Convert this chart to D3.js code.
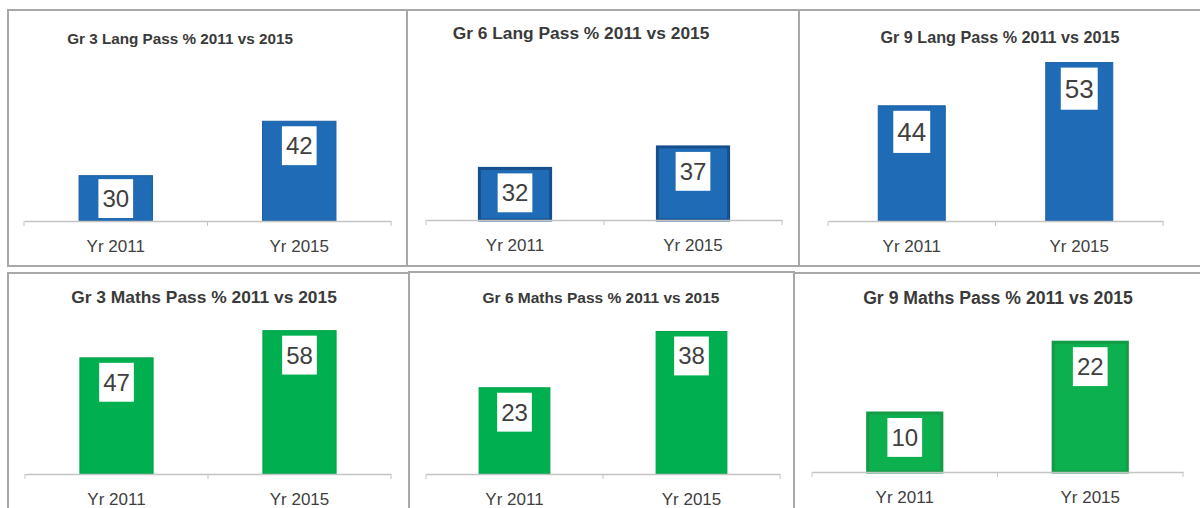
<!DOCTYPE html>
<html lang="en">
<head>
    <meta charset="UTF-8">
    <title>Pass % 2011 vs 2015</title>
    <script src="https://d3js.org/d3.v7.min.js"></script>
    <style>
        body { margin: 0; background: #fff; }
        svg { display: block; font-family: "Liberation Sans", Arial, sans-serif; }
        .title { font-weight: bold; fill: #3a3a3a; text-anchor: middle; }
        .axis text { fill: #404040; font-size: 17px; }
        .value { fill: #404040; text-anchor: middle; }
    </style>
</head>
<body>
<svg width="1200" height="508"></svg>
<script>
    // data
    const titles = [
        "Gr 3 Lang Pass % 2011 vs 2015",
        "Gr 6 Lang Pass % 2011 vs 2015",
        "Gr 9 Lang Pass % 2011 vs 2015",
        "Gr 3 Maths Pass % 2011 vs 2015",
        "Gr 6 Maths Pass % 2011 vs 2015",
        "Gr 9 Maths Pass % 2011 vs 2015"
    ];
    const years = ["Yr 2011", "Yr 2015"];
    const langPass = [[30, 42], [32, 37], [44, 53]];
    const mathsPass = [[47, 58], [23, 38], [10, 22]];

    // where each pasted chart sits in the picture (they were screenshotted separately)
    const layout = [
        { box: [8, 10, 407, 266], ax: [24, 391], base: 221, dom: [20, 50], top: 85, tx: 180, ty: 38, tw: 226, ls: 24, fill: "#1f6bb5", stroke: "#1b5fa3", sw: 1 },
        { box: [407, 10, 799, 266], ax: [426, 782], base: 220, dom: [20, 40], top: 134, tx: 581, ty: 33, tw: 257, ls: 24, fill: "#1f6bb5", stroke: "#174f8c", sw: 3 },
        { box: [799, 10, 1203, 266], ax: [828, 1163], base: 221, dom: [20, 60], top: 29, tx: 1000, ty: 37, tw: 239, ls: 26, fill: "#1f6bb5", stroke: "#1b5fa3", sw: 1 },
        { box: [8, 273, 409, 515], ax: [25, 391], base: 474, dom: [0, 70], top: 301, tx: 204, ty: 297, tw: 266, ls: 24, fill: "#00b050", stroke: "#00a048", sw: 1 },
        { box: [409, 272, 794, 515], ax: [426, 780], base: 474, dom: [0, 40], top: 324, tx: 601, ty: 297, tw: 237, ls: 24, fill: "#00b050", stroke: "#00a048", sw: 1 },
        { box: [794, 273, 1203, 515], ax: [812, 1183], base: 472, dom: [0, 25], top: 324.5, tx: 998, ty: 298, tw: 270, ls: 24, fill: "#0db04e", stroke: "#159a45", sw: 3 }
    ];

    const values = langPass.concat(mathsPass);
    const svg = d3.select("svg");

    // bottom row first so the top row borders sit over them
    const order = [3, 4, 5, 0, 1, 2];

    order.forEach(i => {
        const L = layout[i];
        const g = svg.append("g");

        g.append("rect")
            .attr("x", L.box[0]).attr("y", L.box[1])
            .attr("width", L.box[2] - L.box[0]).attr("height", L.box[3] - L.box[1])
            .attr("fill", "#fff")
            .attr("stroke", "#a8a8a8")
            .attr("stroke-width", 2);

        const x = d3.scaleBand().domain(years).range(L.ax).padding(0);
        const y = d3.scaleLinear().domain(L.dom).range([L.base, L.top]);
        const bw = x.bandwidth() * 0.4;

        const data = years.map((yr, j) => ({ yr: yr, v: values[i][j] }));

        // title, sized to the width it has in the picture
        const t = g.append("text")
            .attr("class", "title")
            .attr("x", L.tx).attr("y", L.ty)
            .attr("dominant-baseline", "central")
            .style("font-size", "10px")
            .text(titles[i]);
        const w10 = t.node().getComputedTextLength();
        t.style("font-size", (10 * L.tw / w10) + "px");

        // bars
        g.selectAll("rect.bar")
            .data(data)
            .enter().append("rect")
            .attr("class", "bar")
            .attr("x", d => x(d.yr) + (x.bandwidth() - bw) / 2)
            .attr("y", d => y(d.v))
            .attr("width", bw)
            .attr("height", d => y(L.dom[0]) - y(d.v))
            .attr("fill", L.fill)
            .attr("stroke", L.stroke)
            .attr("stroke-width", L.sw);

        // axis
        const axis = g.append("g")
            .attr("class", "axis")
            .attr("transform", `translate(0,${L.base})`)
            .call(d3.axisBottom(x).tickSize(0).tickSizeOuter(0).tickPadding(19));
        axis.select(".domain").attr("stroke", "#c4c4c4").attr("stroke-width", 1.3);
        axis.selectAll(".tick text").attr("font-family", null).attr("font-size", null);

        const edges = years.map(d => x(d)).concat([L.ax[1]]);
        g.selectAll("line.edge")
            .data(edges)
            .enter().append("line")
            .attr("x1", d => d).attr("x2", d => d)
            .attr("y1", L.base).attr("y2", L.base + 5)
            .attr("stroke", "#c4c4c4");

        // data labels in white boxes, inside end
        const lab = g.selectAll("g.lab")
            .data(data)
            .enter().append("g")
            .attr("class", "lab");

        lab.each(function(d) {
            const s = d3.select(this);
            const boxH = L.ls * 1.62;
            let top = y(d.v) + 5;
            if (top + boxH > L.base - 3) top = L.base - 3 - boxH;
            const cx = x(d.yr) + x.bandwidth() / 2;
            const txt = s.append("text")
                .attr("class", "value")
                .attr("x", cx)
                .attr("y", top + boxH / 2)
                .attr("dominant-baseline", "central")
                .style("font-size", L.ls + "px")
                .text(d.v);
            const tw = txt.node().getComputedTextLength();
            s.insert("rect", "text")
                .attr("x", cx - tw / 2 - 4)
                .attr("y", top)
                .attr("width", tw + 8)
                .attr("height", boxH)
                .attr("fill", "#fff");
        });
    });
</script>
</body>
</html>
